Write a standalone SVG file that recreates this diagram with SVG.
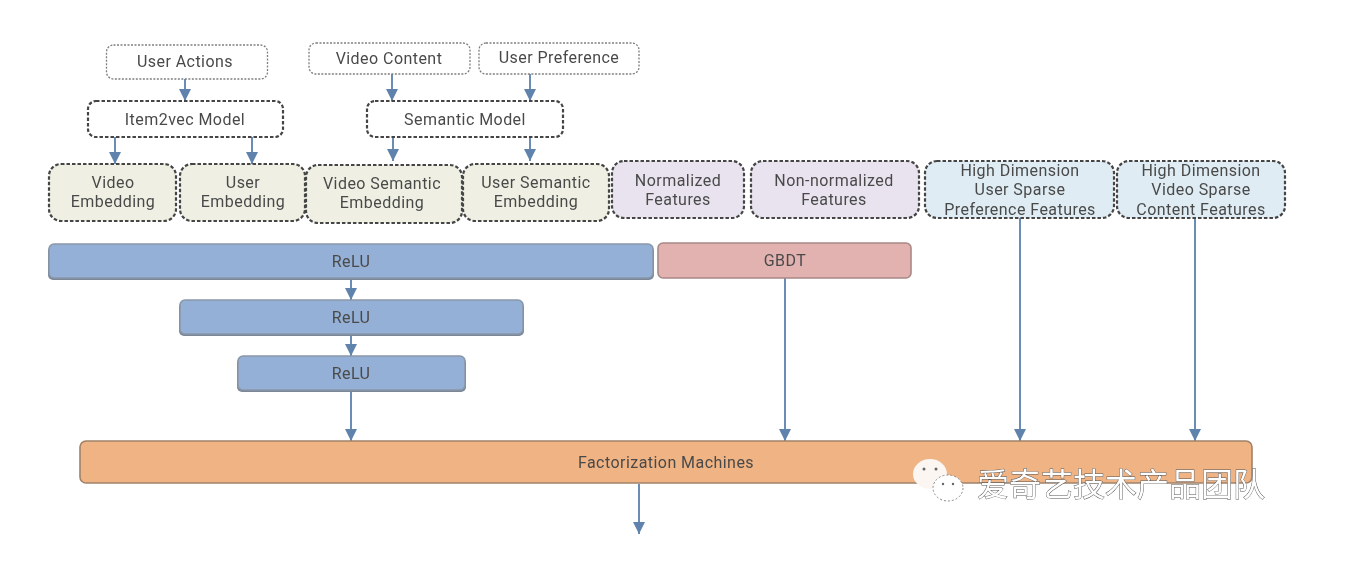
<svg xmlns="http://www.w3.org/2000/svg" width="1346" height="572" viewBox="0 0 1346 572">
<style>
text{font-family:Roboto,"Liberation Sans","Noto Sans CJK SC",sans-serif;font-size:16px;letter-spacing:.45px;fill:#4a4a4a;text-anchor:middle}
svg>g{filter:url(#b)}
.in{fill:#fff;stroke:#7f7f7f;stroke-width:1.3;stroke-dasharray:2 1.500}
.model{fill:#fff;stroke:#444;stroke-width:2.200;stroke-dasharray:3.500 2}
.emb{fill:#eff0e3;stroke:#444;stroke-width:2.200;stroke-dasharray:3.500 2}
.feat{fill:#e8e3ee;stroke:#444;stroke-width:2.200;stroke-dasharray:3.500 2}
.sparse{fill:#dfecf3;stroke:#444;stroke-width:2.200;stroke-dasharray:3.500 2}
.relu{fill:#95b0d6;stroke:#8a97a8;stroke-width:1.500}
.shade{fill:#7a8798}
.gbdt{fill:#e2b2b0;stroke:#a98886;stroke-width:1.600}
.fm{fill:#efb384;stroke:#a08268;stroke-width:1.600}
.c{stroke:#6a8cb5;stroke-width:2;fill:none;marker-end:url(#a)}
.wm{font-size:32px;letter-spacing:0;fill:#fff;stroke:#555;stroke-width:.9;paint-order:stroke;text-anchor:start;font-family:"Noto Sans CJK SC",sans-serif}
</style>
<defs>
<marker id="a" markerUnits="userSpaceOnUse" markerWidth="13" markerHeight="12" refX="12" refY="6" orient="auto"><path d="M0 0L12 6L0 12z" fill="#5f83ad"/></marker>
<filter id="b" x="-5%" y="-5%" width="110%" height="110%"><feGaussianBlur stdDeviation="0.45"/></filter>
</defs>
<rect width="1346" height="572" fill="#fff"/>
<g id="connectors">
<path class="c" d="M185 79V101"/>
<path class="c" d="M392 74V101"/>
<path class="c" d="M530 74V101"/>
<path class="c" d="M115 137V164"/>
<path class="c" d="M252 137V164"/>
<path class="c" d="M393 137V161"/>
<path class="c" d="M530 137V161"/>
<path class="c" d="M351 279V300"/>
<path class="c" d="M351 335V356"/>
<path class="c" d="M351 391V441"/>
<path class="c" d="M785 278V441"/>
<path class="c" d="M1020 218V441"/>
<path class="c" d="M1195 218V441"/>
<path class="c" d="M639 484V534"/>
</g>
<g id="user-actions"><rect class="in" x="106.500" y="45" width="161" height="34" rx="7"/><text x="185" y="67">User Actions</text></g>
<g id="video-content"><rect class="in" x="309" y="43" width="161" height="31" rx="7"/><text x="389" y="64">Video Content</text></g>
<g id="user-preference"><rect class="in" x="479" y="43" width="160" height="31" rx="7"/><text x="559" y="63">User Preference</text></g>
<g id="item2vec"><rect class="model" x="88" y="101" width="195" height="36" rx="8"/><text x="185" y="125">Item2vec Model</text></g>
<g id="semantic"><rect class="model" x="367" y="101" width="196" height="36" rx="8"/><text x="465" y="125">Semantic Model</text></g>
<g id="video-embedding"><rect class="emb" x="49" y="164" width="127" height="57" rx="12"/><text x="113" y="188">Video</text><text x="113" y="207">Embedding</text></g>
<g id="user-embedding"><rect class="emb" x="180" y="164" width="125" height="57" rx="12"/><text x="243" y="188">User</text><text x="243" y="207">Embedding</text></g>
<g id="video-semantic"><rect class="emb" x="306" y="165" width="156" height="58" rx="12"/><text x="382" y="189">Video Semantic</text><text x="382" y="208">Embedding</text></g>
<g id="user-semantic"><rect class="emb" x="463" y="164" width="146" height="57" rx="12"/><text x="536" y="188">User Semantic</text><text x="536" y="207">Embedding</text></g>
<g id="normalized"><rect class="feat" x="612" y="161" width="132" height="57" rx="12"/><text x="678" y="186">Normalized</text><text x="678" y="205">Features</text></g>
<g id="non-normalized"><rect class="feat" x="751" y="161" width="168" height="57" rx="12"/><text x="834" y="186">Non-normalized</text><text x="834" y="205">Features</text></g>
<g id="user-sparse"><rect class="sparse" x="925" y="161" width="189" height="57" rx="12"/><text x="1020" y="176">High Dimension</text><text x="1020" y="195">User Sparse</text><text x="1020" y="215">Preference Features</text></g>
<g id="video-sparse"><rect class="sparse" x="1117" y="161" width="168" height="57" rx="12"/><text x="1201" y="176">High Dimension</text><text x="1201" y="195">Video Sparse</text><text x="1201" y="215">Content Features</text></g>
<g id="relu1"><rect class="shade" x="48" y="246" width="606" height="34" rx="5"/><rect class="relu" x="49" y="244" width="604" height="34" rx="5"/><text x="351" y="267">ReLU</text></g>
<g id="gbdt"><rect class="gbdt" x="658" y="243" width="253" height="35" rx="5"/><text x="785" y="266">GBDT</text></g>
<g id="relu2"><rect class="shade" x="179" y="302" width="345" height="34" rx="5"/><rect class="relu" x="180" y="300" width="343" height="34" rx="5"/><text x="351" y="323">ReLU</text></g>
<g id="relu3"><rect class="shade" x="237" y="358" width="229" height="34" rx="5"/><rect class="relu" x="238" y="356" width="227" height="34" rx="5"/><text x="351" y="379">ReLU</text></g>
<g id="fm"><rect class="fm" x="80" y="441" width="1172" height="42" rx="6"/><text x="666" y="468">Factorization Machines</text></g>
<g id="watermark">
<ellipse cx="930" cy="474" rx="17" ry="15" fill="#fbf6f2"/>
<ellipse cx="948" cy="488" rx="15" ry="13" fill="#fff" stroke="#888" stroke-width="1" stroke-dasharray="2 2"/>
<circle cx="924" cy="469" r="1.500" fill="#666"/><circle cx="936" cy="469" r="1.500" fill="#666"/><circle cx="943" cy="484" r="1.200" fill="#666"/><circle cx="953" cy="484" r="1.200" fill="#666"/>
<text class="wm" x="977" y="496">爱奇艺技术产品团队</text>
</g>
</svg>
